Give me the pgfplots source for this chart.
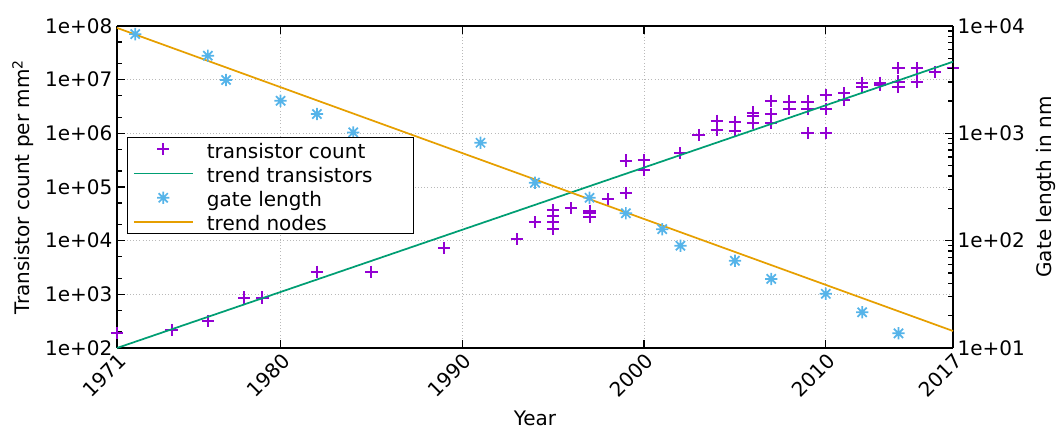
\documentclass[border=0pt]{standalone}
\usepackage{fontspec}
\setmainfont{DejaVu Sans}
\usepackage{pgfplots}
\pgfplotsset{compat=1.18}
\definecolor{gpviolet}{HTML}{9400D3}
\definecolor{gpgreen}{HTML}{009E73}
\definecolor{gpsky}{HTML}{56B4E9}
\definecolor{gporange}{HTML}{E69F00}
\pgfdeclareplotmark{gpstar}{%
  \pgfpathmoveto{\pgfqpoint{-\pgfplotmarksize}{0pt}}\pgfpathlineto{\pgfqpoint{\pgfplotmarksize}{0pt}}%
  \pgfpathmoveto{\pgfqpoint{0pt}{-\pgfplotmarksize}}\pgfpathlineto{\pgfqpoint{0pt}{\pgfplotmarksize}}%
  \pgfpathmoveto{\pgfqpoint{-0.75\pgfplotmarksize}{-0.75\pgfplotmarksize}}\pgfpathlineto{\pgfqpoint{0.75\pgfplotmarksize}{0.75\pgfplotmarksize}}%
  \pgfpathmoveto{\pgfqpoint{-0.75\pgfplotmarksize}{0.75\pgfplotmarksize}}\pgfpathlineto{\pgfqpoint{0.75\pgfplotmarksize}{-0.75\pgfplotmarksize}}%
  \pgfusepathqstroke}
\newcommand{\gpfont}{\fontsize{15}{18}\selectfont}
\begin{document}
\begin{tikzpicture}
\useasboundingbox (-87.75pt,-60pt) rectangle (710.25pt,261pt);
\begin{axis}[
  at={(0pt,0pt)}, anchor=south west,
  scale only axis, width=627pt, height=241.5pt,
  xmin=1971, xmax=2017, ymode=log,
  ymin=1e2, ymax=1e8,
  clip=false,
  tick label style={font=\gpfont},
  label style={font=\gpfont},
  /pgf/number format/assume math mode=true,
  major tick length=6pt, minor tick length=3.5pt,
  every tick/.style={black, line width=1pt},
  axis line style={black, line width=1.5pt},
  axis y line*=left,
  tick align=inside,
  xtick={1971,1980,1990,2000,2010,2017},
  xticklabels={1971,1980,1990,2000,2010,2017},
  xticklabel style={rotate=45, anchor=north east, inner sep=2pt},
  xtick pos=both,
  ytick={1e2,1e3,1e4,1e5,1e6,1e7,1e8},
  yticklabels={1e+02,1e+03,1e+04,1e+05,1e+06,1e+07,1e+08},
  minor ytick={200,500,2000,5000,2e4,5e4,2e5,5e5,2e6,5e6,2e7,5e7},
  xmajorgrids, ymajorgrids,
  grid style={dotted, gray!55, line width=0.6pt},
  xlabel={Year},
  xlabel style={at={(axis description cs:0.5,-0.217)}, anchor=center},
  ylabel={Transistor count per mm\textsuperscript{2}},
  ylabel style={at={(axis description cs:-0.1124,0.5)}, anchor=center},
]
\addplot[only marks, mark=+, mark size=4.6pt, gpviolet, line width=1.5pt] coordinates {
(1971,190) (1974,217) (1976,318) (1978,870) (1979,870)
(1982,2640) (1985,2640) (1989,7400) (1993,10600) (1994,22000)
(1995,37300) (1995,29300) (1995,21800) (1995,16800) (1996,40100)
(1997,36000) (1997,33000) (1997,28000) (1998,59000)
(1999,310000) (1999,78000) (2000,318000) (2000,207000)
(2002,425000) (2003,931000) (2004,1720000) (2004,1150000)
(2005,1650000) (2005,1120000) (2006,2430000) (2006,2100000) (2006,1540000)
(2007,4060000) (2007,2290000) (2007,1580000) (2008,3900000) (2008,2840000)
(2009,3900000) (2009,2840000) (2009,1000000)
(2010,5180000) (2010,2840000) (2010,1000000)
(2011,5570000) (2011,4180000) (2012,8800000) (2012,7400000)
(2013,8800000) (2013,7900000) (2014,16300000) (2014,9200000) (2014,7400000)
(2015,16300000) (2015,9200000) (2016,14100000) (2017,16800000)
};
\end{axis}
\begin{axis}[
  at={(0pt,0pt)}, anchor=south west,
  scale only axis, width=627pt, height=241.5pt,
  xmin=1971, xmax=2017, ymode=log,
  ymin=10, ymax=1e4,
  clip=false,
  tick label style={font=\gpfont},
  label style={font=\gpfont},
  /pgf/number format/assume math mode=true,
  major tick length=6pt, minor tick length=3.5pt,
  every tick/.style={black, line width=1pt},
  axis line style={black, line width=1.5pt},
  axis x line=none, axis y line*=right,
  tick align=inside,
  ytick={10,100,1000,10000},
  yticklabels={1e+01,1e+02,1e+03,1e+04},
  minor ytick={20,30,40,50,60,70,80,90,200,300,400,500,600,700,800,900,2000,3000,4000,5000,6000,7000,8000,9000},
  ylabel={Gate length in nm},
  ylabel style={at={(axis description cs:1.111,0.5)}, anchor=center},
  legend image code/.code={\draw[mark repeat=2,mark phase=2,#1] plot coordinates {(0pt,0pt) (22pt,0pt) (44pt,0pt)}; \path (52pt,0pt);},
  legend cell align=left,
  legend style={at={(axis description cs:0.012,0.655)}, anchor=north west,
    draw=black, line width=1pt, fill=white, font=\gpfont,
    inner xsep=4pt, inner ysep=0pt, row sep=1pt,
    nodes={text height=13.7pt, text depth=0.5pt, inner ysep=1.5pt}},
]
\addlegendimage{only marks, mark=+, mark size=4.6pt, gpviolet, line width=1.5pt}
\addlegendentry{transistor count}
% trend transistors: 1e2 -> 2.16e7 on the left axis = 10 -> 4648 on the right axis
\addplot[gpgreen, line width=1.3pt] coordinates {(1971,10) (2017,4648)};
\addlegendentry{\makebox[149pt][l]{trend transistors}}
\addplot[only marks, mark=gpstar, mark size=4.6pt, gpsky, line width=1.3pt] coordinates {
(1972,8400) (1976,5290) (1977,3140) (1980,2010) (1982,1512) (1984,1020)
(1991,817) (1994,347) (1997,251) (1999,180) (2001,128) (2002,89.8)
(2005,65) (2007,44) (2010,32) (2012,21.5) (2014,13.7)
};
\addlegendentry{gate length}
\addplot[gporange, line width=1.3pt] coordinates {(1971,9600) (2017,14.4)};
\addlegendentry{trend nodes}
\end{axis}
\end{tikzpicture}
\end{document}
